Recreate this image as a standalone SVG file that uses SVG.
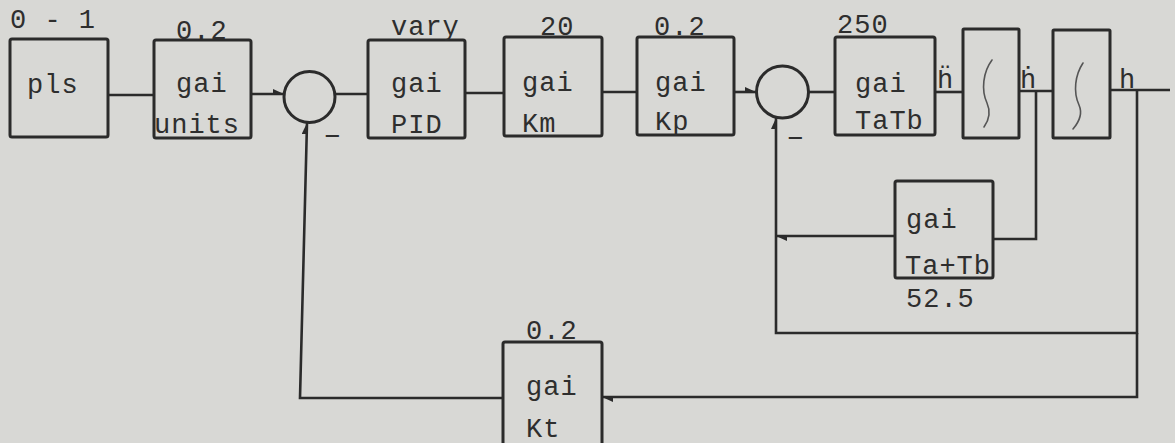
<svg xmlns="http://www.w3.org/2000/svg" width="1175" height="443" viewBox="0 0 1175 443">
<style>
.bg{fill:#d8d8d5}
.box{fill:none;stroke:#2b2b2b;stroke-width:3;stroke-linejoin:round}
.ln{fill:none;stroke:#2b2b2b;stroke-width:2.6;stroke-linejoin:miter}
.sum{fill:none;stroke:#2b2b2b;stroke-width:3}
.intg{fill:none;stroke:#555;stroke-width:1.6;stroke-linecap:round}
text{font-family:"Liberation Mono","DejaVu Sans Mono",monospace;font-size:27px;fill:#2e2e2e;letter-spacing:1px}
</style>
<defs>
<marker id="ah" markerUnits="userSpaceOnUse" markerWidth="12" markerHeight="10" refX="11" refY="5" orient="auto">
<path d="M0,0 L11,5 L0,6 z" fill="#2b2b2b"/>
</marker>
</defs>
<rect class="bg" x="0" y="0" width="1175" height="443"/>

<g id="connectors">
<line class="ln" x1="108" y1="95" x2="154" y2="95"/>
<line class="ln" x1="251" y1="94" x2="284" y2="94" marker-end="url(#ah)"/>
<line class="ln" x1="335" y1="94" x2="368" y2="94"/>
<line class="ln" x1="465" y1="93" x2="504" y2="93"/>
<line class="ln" x1="602" y1="92" x2="637" y2="92"/>
<line class="ln" x1="734" y1="92" x2="756" y2="92" marker-end="url(#ah)"/>
<line class="ln" x1="808" y1="92" x2="835" y2="92"/>
<line class="ln" x1="935" y1="92" x2="963" y2="92"/>
<line class="ln" x1="1019" y1="91" x2="1053" y2="91"/>
<line class="ln" x1="1110" y1="90" x2="1170" y2="90"/>
<polyline class="ln" points="1036,91 1036,239 993,239"/>
<line class="ln" x1="895" y1="236" x2="776" y2="236" marker-end="url(#ah)"/>
<polyline class="ln" points="1137,90 1137,333 776,333 776,118" marker-end="url(#ah)"/>
<polyline class="ln" points="1137,333 1137,397 602,397" marker-end="url(#ah)"/>
<polyline class="ln" points="503,398 300,398 307,123" marker-end="url(#ah)"/>
</g>

<g id="pls">
<rect class="box" x="10" y="39" width="98" height="98" rx="2"/>
<text x="10" y="28">0 - 1</text>
<text x="27" y="93">pls</text>
</g>

<g id="units">
<rect class="box" x="154" y="40" width="97" height="98" rx="2"/>
<text x="176" y="39">0.2</text>
<text x="176" y="92">gai</text>
<text x="154" y="133">units</text>
</g>

<g id="sum1">
<circle class="sum" cx="309.5" cy="97" r="25.5"/>
<text x="324" y="145">−</text>
</g>

<g id="pid">
<rect class="box" x="368" y="40" width="97" height="98" rx="2"/>
<text x="391" y="35">vary</text>
<text x="391" y="92">gai</text>
<text x="391" y="133">PID</text>
</g>

<g id="km">
<rect class="box" x="504" y="37" width="98" height="99" rx="2"/>
<text x="540" y="35">20</text>
<text x="522" y="91">gai</text>
<text x="522" y="132">Km</text>
</g>

<g id="kp">
<rect class="box" x="637" y="37" width="97" height="98" rx="2"/>
<text x="654" y="35">0.2</text>
<text x="655" y="91">gai</text>
<text x="655" y="130">Kp</text>
</g>

<g id="sum2">
<circle class="sum" cx="782.5" cy="92" r="26"/>
<text x="787" y="147">−</text>
</g>

<g id="tatb">
<rect class="box" x="835" y="37" width="100" height="98" rx="2"/>
<text x="837" y="33">250</text>
<text x="855" y="92">gai</text>
<text x="855" y="129">TaTb</text>
<text x="937" y="88">ḧ</text>
</g>

<g id="int1">
<rect class="box" x="963" y="29" width="56" height="109" rx="1"/>
<path class="intg" d="M992,60 C983,72 981,90 987,103 C991,112 989,120 984,127"/>
<text x="1020" y="88">ḣ</text>
</g>

<g id="int2">
<rect class="box" x="1053" y="30" width="57" height="108" rx="1"/>
<path class="intg" d="M1083,63 C1075,75 1073,92 1079,105 C1083,114 1079,122 1073,129"/>
<text x="1119" y="88">h</text>
</g>

<g id="tatb2">
<rect class="box" x="895" y="181" width="98" height="97" rx="2"/>
<text x="906" y="228">gai</text>
<text x="905" y="274">Ta+Tb</text>
<text x="906" y="307">52.5</text>
</g>

<g id="kt">
<rect class="box" x="503" y="342" width="99" height="106" rx="2"/>
<text x="526" y="339">0.2</text>
<text x="526" y="395">gai</text>
<text x="526" y="437">Kt</text>
</g>
</svg>
